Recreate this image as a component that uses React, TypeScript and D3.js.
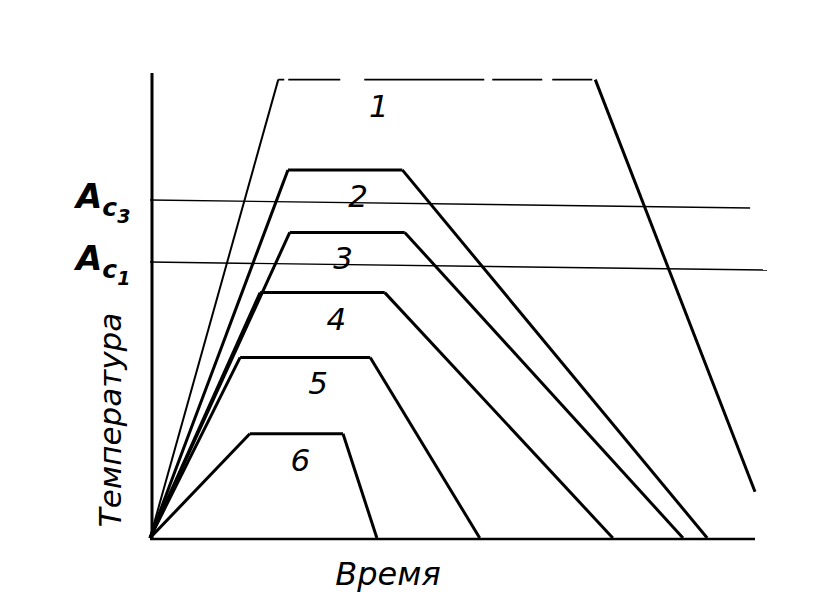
import React from "react";
import { scaleLinear, line } from "d3";

// heat treatment cycles, time / temperature in relative units (0..100)
const curveLabels = ["1", "2", "3", "4", "5", "6"];
const heatEndTime = [21.2, 22.8, 23.1, 18.2, 14.9, 16.5];
const holdEndTime = [73.6, 41.7, 42.1, 38.8, 36.4, 31.9];
const coolEndTime = [100, 92.1, 88.1, 76.5, 54.5, 37.5];
const peakTemp = [99, 79.5, 66, 53, 39, 22.5];
const finalTemp = [10, 0, 0, 0, 0, 0];

// critical points
const criticalNames = ["3", "1"];
const criticalTemp = [73, 59.6];

const W = 818;
const H = 613;
const font = "'DejaVu Sans', sans-serif";

export default function App() {
  const x = scaleLinear().domain([0, 100]).range([150, 755]);
  const y = scaleLinear().domain([0, 100]).range([538, 75]);
  const path = line<[number, number]>()
    .x((d) => x(d[0]))
    .y((d) => y(d[1]));

  // small per-label nudges (px) so numbers sit like in the drawing
  const labelNudge = [-58, 13, -4, 14, 13, 4];

  return (
    <svg width={W} height={H} style={{ position: "absolute", left: 0, top: 0, background: "#fff" }}>
      {/* axes */}
      <line x1={x(0) + 2} y1={y(100) - 2} x2={x(0) + 2} y2={y(0)} stroke="#000" strokeWidth={3} />
      <line x1={x(0)} y1={y(0) + 1} x2={x(100)} y2={y(0) + 1} stroke="#000" strokeWidth={2.5} />

      {/* critical temperature lines */}
      {criticalTemp.map((t, i) => (
        <line
          key={"crit" + i}
          x1={x(0)}
          y1={y(t)}
          x2={x(i === 0 ? 99.2 : 102)}
          y2={y(t) + 8}
          stroke="#000"
          strokeWidth={1.4}
        />
      ))}
      {criticalTemp.map((t, i) => (
        <text
          key={"critl" + i}
          x={76}
          y={y(t) + 8}
          fontFamily={font}
          fontStyle="italic"
          fontWeight="bold"
          fill="#000"
        >
          <tspan fontSize={34}>A</tspan>
          <tspan fontSize={25} dy={8}>c</tspan>
          <tspan fontSize={19} dy={7}>{criticalNames[i]}</tspan>
        </text>
      ))}

      {/* cycles */}
      {curveLabels.map((lab, i) => {
        const heat: [number, number][] = [[0, 0], [heatEndTime[i], peakTemp[i]]];
        const hold: [number, number][] = [[heatEndTime[i], peakTemp[i]], [holdEndTime[i], peakTemp[i]]];
        const cool: [number, number][] = [[holdEndTime[i], peakTemp[i]], [coolEndTime[i], finalTemp[i]]];
        const first = i === 0;
        const mid = (x(heatEndTime[i]) + x(holdEndTime[i])) / 2;
        return (
          <g key={lab}>
            <path d={path(heat) ?? ""} fill="none" stroke="#000" strokeWidth={first ? 2 : 3} />
            <path
              d={path(hold) ?? ""}
              fill="none"
              stroke="#000"
              strokeWidth={first ? 1.8 : 3}
              strokeDasharray={first ? "6 4 52 24 120 8 50 10 40 6 200" : undefined}
            />
            <path d={path(cool) ?? ""} fill="none" stroke="#000" strokeWidth={3} />
            <text
              x={mid + labelNudge[i]}
              y={y(peakTemp[i]) + 37}
              fontFamily={font}
              fontStyle="italic"
              fontSize={31}
              textAnchor="middle"
              fill="#000"
            >
              {lab}
            </text>
          </g>
        );
      })}

      {/* axis titles */}
      <text
        transform={`translate(121, 420) rotate(-90)`}
        fontFamily={font}
        fontStyle="italic"
        fontSize={31}
        textAnchor="middle"
        fill="#000"
      >
        Температура
      </text>
      <text x={388} y={585} fontFamily={font} fontStyle="italic" fontSize={32} textAnchor="middle" fill="#000">
        Время
      </text>
    </svg>
  );
}
